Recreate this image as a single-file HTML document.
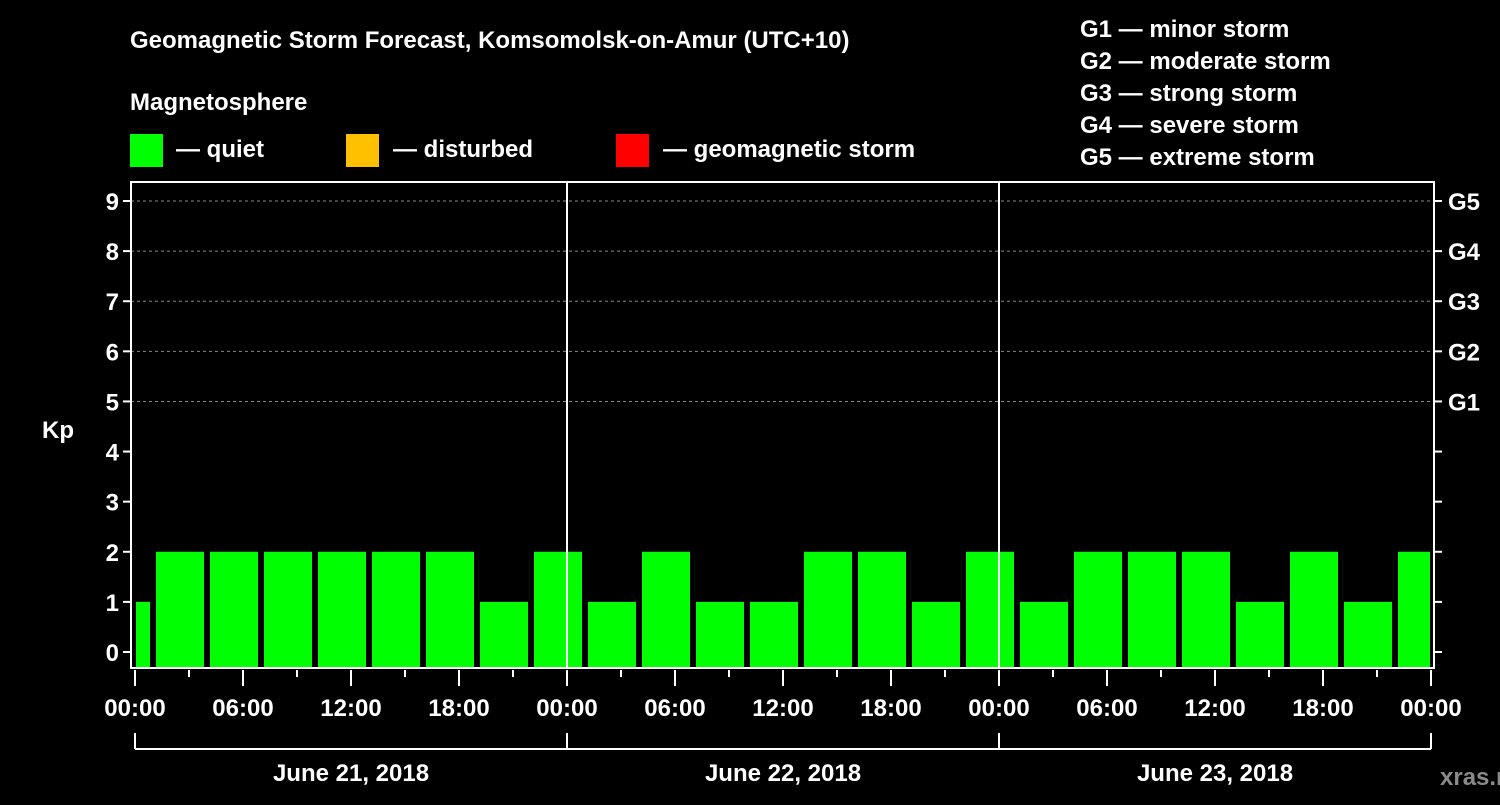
<!DOCTYPE html>
<html><head><meta charset="utf-8"><style>
body{margin:0;background:#000;width:1500px;height:800px;overflow:hidden}
svg text{font-family:"Liberation Sans",sans-serif;font-weight:bold;fill:#fff}
</style></head><body>
<svg width="1500" height="800">
<text x="130" y="48" font-size="24">Geomagnetic Storm Forecast, Komsomolsk-on-Amur (UTC+10)</text>
<text x="130" y="110" font-size="24">Magnetosphere</text>
<g>
<rect x="130" y="134" width="33" height="33" fill="#00ff00"/>
<text x="176" y="157" font-size="24">— quiet</text>
<rect x="346" y="134" width="33" height="33" fill="#ffc000"/>
<text x="393" y="157" font-size="24">— disturbed</text>
<rect x="616" y="134" width="33" height="33" fill="#ff0000"/>
<text x="663" y="157" font-size="24">— geomagnetic storm</text>
</g>
<g font-size="24">
<text x="1080" y="37">G1 — minor storm</text>
<text x="1080" y="69">G2 — moderate storm</text>
<text x="1080" y="101">G3 — strong storm</text>
<text x="1080" y="133">G4 — severe storm</text>
<text x="1080" y="165">G5 — extreme storm</text>
</g>
<text x="42" y="438" font-size="24">Kp</text>
<text x="1440" y="785" font-size="24" fill="#888" style="fill:#8a8a8a">xras.ru</text>
<g id="plot"></g>
</svg>
<script>
const kpValues=[1,2,2,2,2,2,2,1,2,1,2,1,1,2,2,1,2,1,2,2,2,1,2,1,2];
const xTickLabels=["00:00","06:00","12:00","18:00","00:00","06:00","12:00","18:00","00:00","06:00","12:00","18:00","00:00"];
const dayLabels=["June 21, 2018","June 22, 2018","June 23, 2018"];
const yTicks=[0,1,2,3,4,5,6,7,8,9];
const gLabels=["G1","G2","G3","G4","G5"];
const firstStartHour=-2, intervalHours=3, totalHours=72;
const X0=135, X1=1431, PL=131, PT=182, PB=668;
const x=h=>X0+(X1-X0)*h/totalHours;
const y=v=>652-(652-201)*v/9;
const ns="http://www.w3.org/2000/svg", g=document.getElementById('plot');
function mk(t,a,txt){const e=document.createElementNS(ns,t);for(const k in a)e.setAttribute(k,a[k]);if(txt!=null)e.textContent=txt;g.appendChild(e);return e;}
// grid
[5,6,7,8,9].forEach(v=>{const e=mk('line',{x1:PL,x2:X1,y1:y(v),y2:y(v),stroke:'#888','stroke-dasharray':'3,3','stroke-width':1});

});
// bars
kpValues.forEach((v,i)=>{const s=firstStartHour+i*intervalHours;let a=x(s)+3,b=x(s+intervalHours)-3;a=Math.max(a,X0+1);b=Math.min(b,X1-1);
const c=v>=5?'#ff0000':(v>=4?'#ffc000':'#00ff00');
const e=mk('rect',{x:a,y:y(v),width:b-a,height:PB-y(v),fill:c});

});
// frame
const fr=mk('rect',{x:PL,y:PT,width:X1+3-PL,height:PB-PT,fill:'none',stroke:'#fff','stroke-width':2});


[1,2].forEach(d=>{const e=mk('line',{x1:x(24*d),x2:x(24*d),y1:PT,y2:PB,stroke:'#fff','stroke-width':2});

});
// y ticks
yTicks.forEach(v=>{mk('line',{x1:PL-8,x2:PL,y1:y(v),y2:y(v),stroke:'#fff','stroke-width':2});
mk('line',{x1:X1+3,x2:X1+11,y1:y(v),y2:y(v),stroke:'#fff','stroke-width':2});
const t=mk('text',{x:PL-12,y:y(v)+9,'font-size':24,'text-anchor':'end'},v);

});
gLabels.forEach((l,i)=>{const t=mk('text',{x:1448,y:y(5+i)+9,'font-size':24},l);

});
// x ticks
for(let h=0;h<=totalHours;h+=3){const maj=h%6==0;mk('line',{x1:x(h),x2:x(h),y1:PB+2,y2:PB+(maj?18:9),stroke:'#fff','stroke-width':2});}
xTickLabels.forEach((l,i)=>{const t=mk('text',{x:x(i*6),y:716,'font-size':24,'text-anchor':'middle'},l);

});
// day brackets
mk('line',{x1:x(0),x2:x(72),y1:749,y2:749,stroke:'#fff','stroke-width':2});
[0,24,48,72].forEach(h=>mk('line',{x1:x(h),x2:x(h),y1:733,y2:749,stroke:'#fff','stroke-width':2}));
dayLabels.forEach((l,i)=>{const t=mk('text',{x:x(12+24*i),y:781,'font-size':24,'text-anchor':'middle'},l);

});
</script>
</body></html>
